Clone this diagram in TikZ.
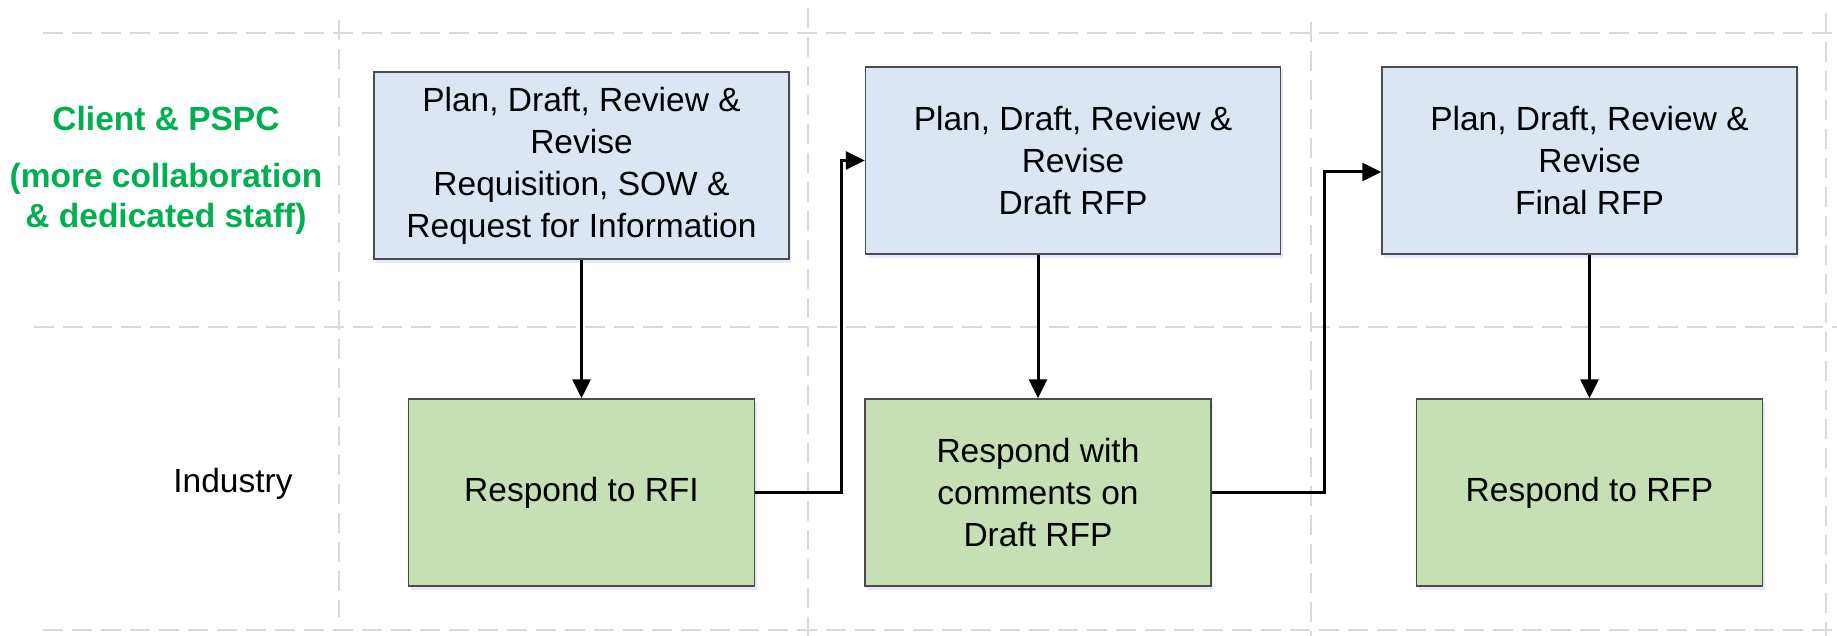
\documentclass[tikz,border=0pt]{standalone}
\usepackage{fontspec}
\setmainfont{Liberation Sans}
\usepackage{xcolor}
\usetikzlibrary{arrows.meta,shadows}

\definecolor{planblue}{HTML}{DCE6F2}
\definecolor{respgreen}{HTML}{C5E0B4}
\definecolor{lanegray}{HTML}{D9D9D9}
\definecolor{clientgreen}{HTML}{00B050}

\begin{document}
\begin{tikzpicture}[x=1pt,y=-1pt,
        lane/.style={draw=lanegray,line width=2.5pt,dash pattern=on 20pt off 9pt},
        planbox/.style={draw=black!70,line width=1.5pt,fill=planblue,
            minimum width=415pt,minimum height=187pt,inner sep=0pt,align=center,
            font=\fontsize{33.5}{42}\selectfont,
            drop shadow={shadow xshift=2pt,shadow yshift=-4pt,fill=blue!15,opacity=0.6}},
        respbox/.style={planbox,fill=respgreen,minimum width=346pt},
        flow/.style={-{Triangle[length=19pt,width=18pt]},line width=3pt}]
        \useasboundingbox (0,0) rectangle (1837,636);

        % swim lanes
        \draw[lane] (43,33) -- (1837,33);
        \draw[lane] (34,327) -- (1837,327);
        \draw[lane] (43,630) -- (1837,630);
        \draw[lane] (339,20) -- (339,617);
        \draw[lane] (808,8) -- (808,636);
        \draw[lane] (1311,22) -- (1311,636);
        \draw[lane] (1826,13) -- (1826,636);

        % lane labels
        \node[font=\bfseries\fontsize{33.5}{40}\selectfont,text=clientgreen,align=center] (client) at (166,170)
            {Client \& PSPC\\[17pt](more collaboration\\\& dedicated staff)};
        \node[font=\fontsize{33.5}{42}\selectfont] (industry) at (233,484) {Industry};

        % steps
        \node[planbox] (plan1) at (581.5,165.5) {Plan, Draft, Review \&\\Revise\\Requisition, SOW \&\\Request for Information};
        \node[planbox] (plan2) at (1073,160.5) {Plan, Draft, Review \&\\Revise\\Draft RFP};
        \node[planbox] (plan3) at (1589.5,160.5) {Plan, Draft, Review \&\\Revise\\Final RFP};
        \node[respbox] (resp1) at (581.5,492.5) {Respond to RFI};
        \node[respbox] (resp2) at (1038,492.5) {Respond with\\comments on\\Draft RFP};
        \node[respbox] (resp3) at (1589.5,492.5) {Respond to RFP};

        % flow
        \draw[flow] (plan1) -- (resp1);
        \draw[flow] (plan2.south -| resp2) -- (resp2);
        \draw[flow] (plan3) -- (resp3);
        \draw[flow] (resp1.east) -- ++(86,0) |- (plan2.west);
        \draw[flow] (resp2.east) -- ++(113,0) |- ([yshift=-11.5pt]plan3.west);
    \end{tikzpicture}
\end{document}
